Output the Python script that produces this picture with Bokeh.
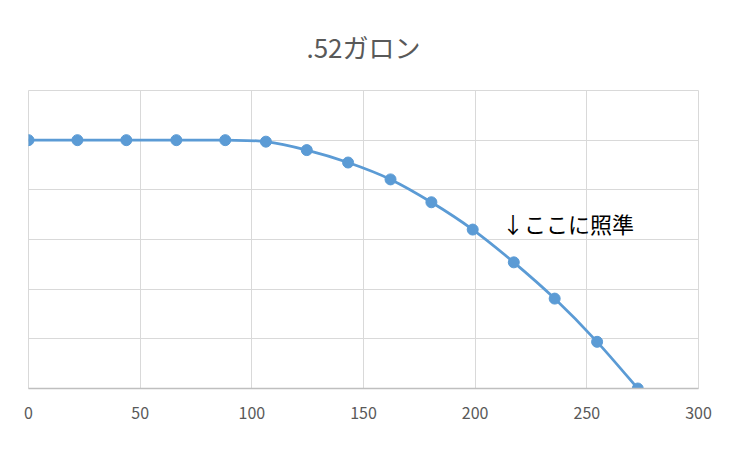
from bokeh.plotting import figure
from bokeh.models import FixedTicker, Label, Range1d
from bokeh.embed import file_html
from bokeh.resources import INLINE

title_text = ".52ガロン"
note_text = "↓ここに照準"
distance = [0, 21.9, 43.8, 66.2, 88.1, 106.3, 124.6, 143.1, 162.1, 180.4, 198.9, 217.3, 235.6, 254.6, 272.8]
height = [5.0, 5.0, 5.0, 5.0, 5.0, 4.97, 4.80, 4.55, 4.21, 3.75, 3.20, 2.54, 1.81, 0.94, 0.0]
x_ticks = [0, 50, 100, 150, 200, 250, 300]
y_ticks = [0, 1, 2, 3, 4, 5, 6]
note_pos = (212.0, 3.33)

FONT = "Noto Sans CJK JP"
BLUE = "#5B9BD5"
GRID = "#d9d9d9"

p = figure(width=736, height=436, output_backend="svg", toolbar_location=None,
           x_range=Range1d(0, 300), y_range=Range1d(0, 6),
           min_border_left=28, min_border_right=38, min_border_top=88, min_border_bottom=48)

p.title.text = title_text
p.title.align = "center"
p.title.text_font = FONT
p.title.text_font_size = "26px"
p.title.text_font_style = "normal"
p.title.text_color = "#595959"
p.title.standoff = 51

p.xaxis.ticker = FixedTicker(ticks=x_ticks)
p.yaxis.ticker = FixedTicker(ticks=y_ticks)
p.xaxis.axis_line_color = "#bfbfbf"
p.xaxis.axis_line_width = 1.5
p.xaxis.major_tick_line_color = None
p.xaxis.minor_tick_line_color = None
p.xaxis.major_label_text_font = FONT
p.xaxis.major_label_text_font_size = "16px"
p.xaxis.major_label_text_color = "#595959"
p.xaxis.major_label_standoff = 12
p.yaxis.visible = False

p.xgrid.grid_line_color = GRID
p.ygrid.grid_line_color = GRID
p.xgrid.grid_line_width = 1
p.ygrid.grid_line_width = 1
p.outline_line_color = GRID

# smooth curve (Bezier segments through the data points, like a smoothed line)
n = len(distance)
x0, y0, x1, y1, cx0, cy0, cx1, cy1 = [], [], [], [], [], [], [], []
for i in range(n - 1):
    im = max(i - 1, 0)
    ip2 = min(i + 2, n - 1)
    x0.append(distance[i]); y0.append(height[i])
    x1.append(distance[i + 1]); y1.append(height[i + 1])
    cx0.append(distance[i] + (distance[i + 1] - distance[im]) / 6)
    cy0.append(height[i] + (height[i + 1] - height[im]) / 6)
    cx1.append(distance[i + 1] - (distance[ip2] - distance[i]) / 6)
    cy1.append(height[i + 1] - (height[ip2] - height[i]) / 6)
p.bezier(x0=x0, y0=y0, x1=x1, y1=y1, cx0=cx0, cy0=cy0, cx1=cx1, cy1=cy1,
         line_color=BLUE, line_width=2.75)
p.scatter(distance, height, size=11, fill_color=BLUE, line_color=BLUE)

p.add_layout(Label(x=note_pos[0], y=note_pos[1], text=note_text, text_font=FONT,
                   text_font_size="22px", text_color="#000000",
                   text_align="left", text_baseline="middle"))

open("out.html", "w").write(file_html(p, INLINE))
